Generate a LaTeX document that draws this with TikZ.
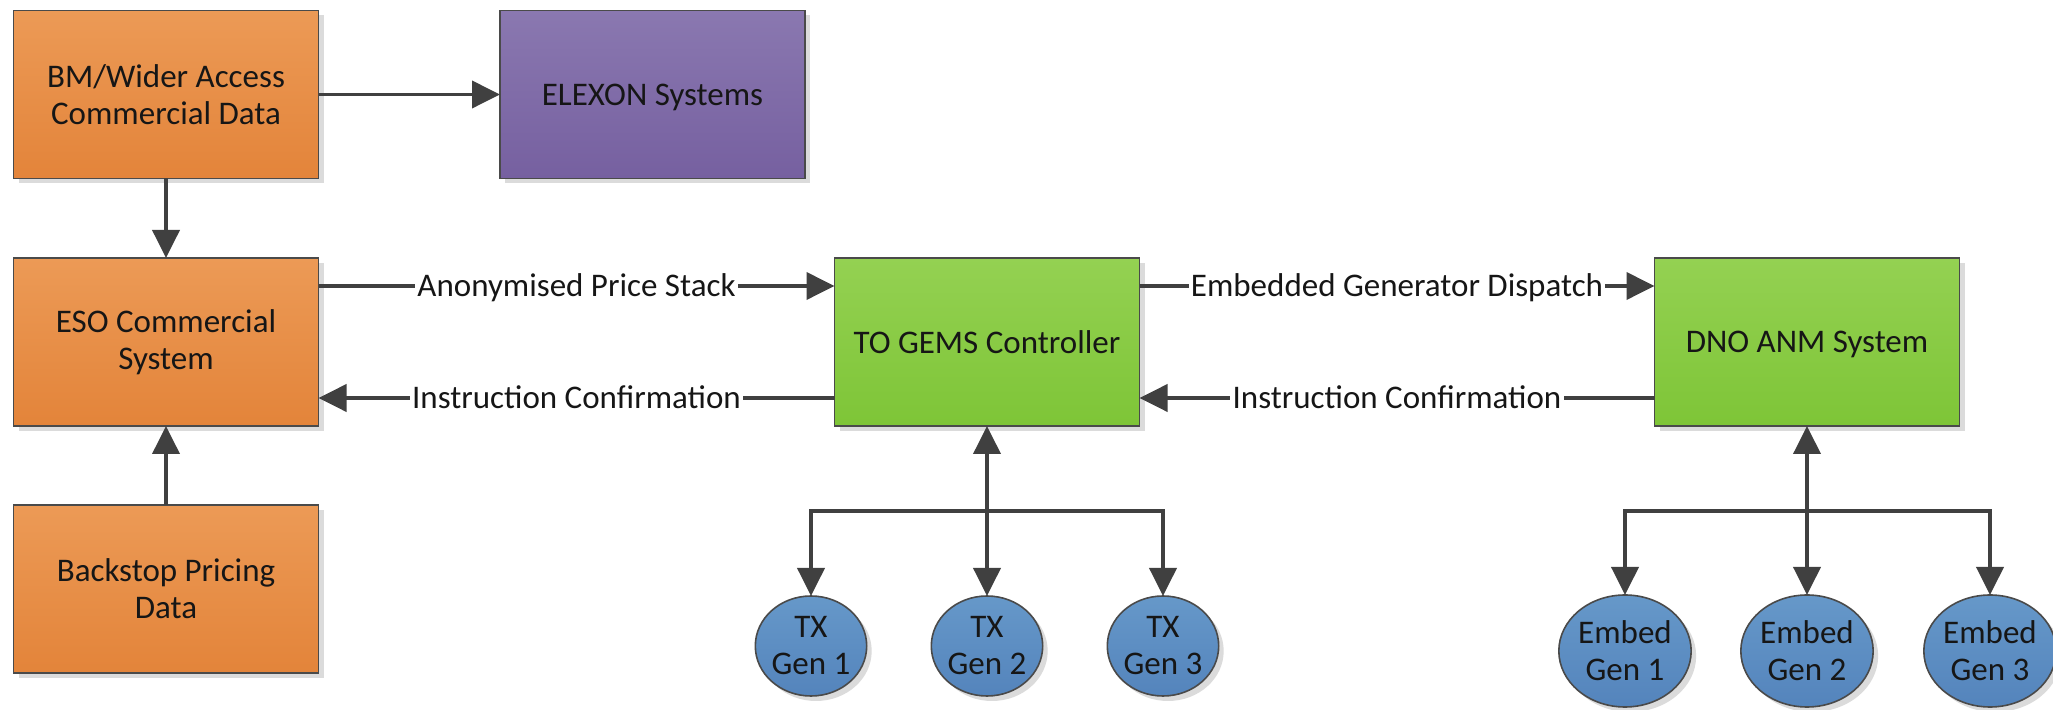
\documentclass[tikz,border=0pt]{standalone}
\usepackage{fontspec}
\setmainfont{Carlito}
\usetikzlibrary{arrows.meta,shadows,shapes.geometric}

\definecolor{ink}{HTML}{161616}
\definecolor{edge}{HTML}{4A4A4A}
\definecolor{wire}{HTML}{404040}
\definecolor{orTop}{HTML}{EC9A56}
\definecolor{orBot}{HTML}{E3843A}
\definecolor{puTop}{HTML}{8A78B0}
\definecolor{puBot}{HTML}{7660A0}
\definecolor{grTop}{HTML}{94D152}
\definecolor{grBot}{HTML}{7EC537}
\definecolor{blTop}{HTML}{6698C9}
\definecolor{blBot}{HTML}{5484BC}

% single-line text whose depth is ignored when centring
\newcommand{\nodepth}[1]{\raisebox{0pt}[\height][0pt]{#1}}

\tikzset{
  txt/.style={text=ink, font=\fontsize{16.5}{18.5}\selectfont},
  softshadow/.style={drop shadow={shadow xshift=2.5pt, shadow yshift=-2.5pt, fill=black!14, opacity=1}},
  box/.style={rectangle, draw=edge, line width=0.8pt, outer sep=0pt,
    minimum width=152.5pt, minimum height=84pt, align=center, txt, softshadow},
  obox/.style={box, top color=orTop, bottom color=orBot},
  pbox/.style={box, top color=puTop, bottom color=puBot},
  gbox/.style={box, top color=grTop, bottom color=grBot},
  gen/.style={ellipse, draw=edge, line width=0.8pt, outer sep=0pt, inner sep=0pt,
    align=center, txt, top color=blTop, bottom color=blBot, softshadow},
  txgen/.style={gen, minimum width=55pt, minimum height=50pt},
  emgen/.style={gen, minimum width=61pt, minimum height=56pt},
  arr/.style={draw=wire, line width=1.9pt, -{Triangle[length=14pt,width=13.5pt]}},
  lab/.style={fill=white, inner sep=1.2pt, text height=10.4pt, text depth=0pt, txt},
}

\begin{document}
\begin{tikzpicture}[x=0.5pt, y=-0.5pt]
  \path[use as bounding box, fill=white] (0,0) rectangle (2053,710);

  % commercial side
  \node[obox] (bm)       at (166,94.5) {BM/Wider Access\\Commercial Data};
  \node[pbox] (elexon)   at (652.5,94.5) {\nodepth{ELEXON Systems}};
  \node[obox] (eso)      at (166,342) {ESO Commercial\\System};
  \node[obox] (backstop) at (166,589) {Backstop Pricing\\Data};

  % controllers
  \node[gbox] (gems) at (987,342) {TO GEMS Controller};
  \node[gbox] (dno)  at (1807,342) {\nodepth{DNO ANM System}};

  % generators
  \node[txgen] (tx1) at (811,646)  {TX\\Gen 1};
  \node[txgen] (tx2) at (987,646)  {TX\\Gen 2};
  \node[txgen] (tx3) at (1163,646) {TX\\Gen 3};
  \node[emgen] (em1) at (1625,651) {Embed\\Gen 1};
  \node[emgen] (em2) at (1807,651) {Embed\\Gen 2};
  \node[emgen] (em3) at (1990,651) {Embed\\Gen 3};

  % data flows
  \draw[arr] (bm) -- (elexon);
  \draw[arr] (bm) -- (eso);
  \draw[arr] (backstop) -- (eso);
  \draw[arr] ([yshift=-14pt]eso.north east) -- node[lab] {Anonymised Price Stack} ([yshift=-14pt]gems.north west);
  \draw[arr] ([yshift=14pt]gems.south west) -- node[lab] {Instruction Confirmation} ([yshift=14pt]eso.south east);
  \draw[arr] ([yshift=-14pt]gems.north east) -- node[lab] {Embedded Generator Dispatch} ([yshift=-14pt]dno.north west);
  \draw[arr] ([yshift=14pt]dno.south west) -- node[lab] {Instruction Confirmation} ([yshift=14pt]gems.south east);

  % transmission generator bus
  \coordinate (txbus) at (987,511);
  \draw[arr] (txbus) -- (gems.south);
  \draw[arr] (txbus) -| (tx1.north);
  \draw[arr] (txbus) -- (tx2.north);
  \draw[arr] (txbus) -| (tx3.north);

  % embedded generator bus
  \coordinate (embus) at (1807,511);
  \draw[arr] (embus) -- (dno.south);
  \draw[arr] (embus) -| (em1.north);
  \draw[arr] (embus) -- (em2.north);
  \draw[arr] (embus) -| (em3.north);
\end{tikzpicture}
\end{document}
